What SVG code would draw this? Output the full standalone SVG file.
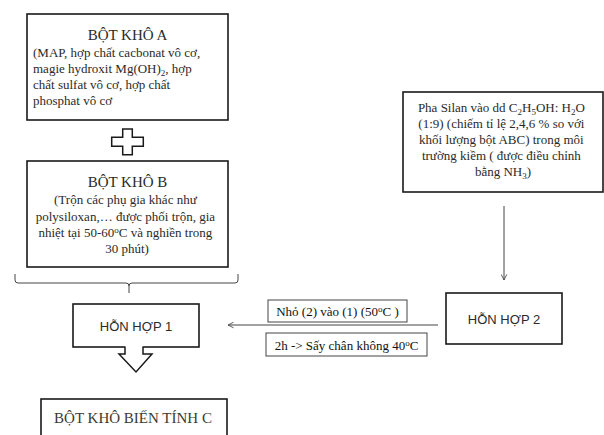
<svg xmlns="http://www.w3.org/2000/svg" width="604" height="435" viewBox="0 0 604 435">
<defs>
<style>
.box{fill:#fff;stroke:#1a1a1a;stroke-width:1.6}
.lbl{fill:#fff;stroke:#444;stroke-width:1}
.serif{font-family:"Liberation Serif","Times New Roman",serif;fill:#2a2a2a}
.sans{font-family:"Liberation Sans",Arial,sans-serif;fill:#2a2a2a}
.ln{fill:none;stroke:#444;stroke-width:1}
</style>
<marker id="open" viewBox="0 0 10 10" refX="9" refY="5" markerWidth="7" markerHeight="7" orient="auto" markerUnits="userSpaceOnUse">
<path d="M1,1 L9,5 L1,9" fill="none" stroke="#444" stroke-width="1.2"/>
</marker>
</defs>
<rect width="604" height="435" fill="#fff"/>

<g id="botkhoA">
<rect class="box" x="27" y="14" width="201" height="106"/>
<text class="serif" x="127.5" y="40" font-size="15" text-anchor="middle">BỘT KHÔ A</text>
<text class="serif" font-size="13">
<tspan x="33" y="57">(MAP, hợp chất cacbonat vô cơ,</tspan>
<tspan x="33" y="73">magie hydroxit Mg(OH)<tspan dy="3" font-size="9">2</tspan><tspan dy="-3">, hợp</tspan></tspan>
<tspan x="33" y="89">chất sulfat vô cơ, hợp chất</tspan>
<tspan x="33" y="105">phosphat vô cơ</tspan>
</text>
</g>

<g id="plus">
<path d="M122.7,129 H132.3 V137.3 H143.3 V146.3 H132.3 V154.7 H122.7 V146.3 H111.7 V137.3 H122.7 Z" fill="#fff" stroke="#1a1a1a" stroke-width="1.5"/>
</g>

<g id="botkhoB">
<rect class="box" x="27" y="161" width="201" height="106"/>
<text class="serif" x="127.5" y="187" font-size="15" text-anchor="middle">BỘT KHÔ B</text>
<text class="serif" font-size="13" text-anchor="middle">
<tspan x="127" y="204">(Trộn các phụ gia khác như</tspan>
<tspan x="127" y="220.5">polysiloxan,… được phối trộn, gia</tspan>
<tspan x="127" y="236.5">nhiệt tại 50-60<tspan dy="-4" font-size="9">o</tspan><tspan dy="4">C và nghiền trong</tspan></tspan>
<tspan x="127" y="252.5">30 phút)</tspan>
</text>
</g>

<g id="brace">
<path class="ln" d="M15,274 V280 Q15,283 18,283 H126 Q129,283 129,286 V293 M129,286 Q129,283 132,283 H235 Q238,283 238,280 V274" stroke="#555" stroke-width="1.2"/>
</g>

<g id="honhop1">
<rect class="box" x="73" y="304" width="126" height="43"/>
<text class="sans" x="136" y="331" font-size="13" text-anchor="middle">HỖN HỢP 1</text>
<rect x="125.5" y="345" width="17" height="4" fill="#fff"/>
<path d="M125,347 V354 H119 L136,372 L152,354 H143 V347" fill="#fff" stroke="#1a1a1a" stroke-width="1.5" stroke-linejoin="miter"/>
</g>

<g id="botkhoC">
<rect class="box" x="41" y="399" width="186" height="50"/>
<text class="serif" x="133" y="423" font-size="15" text-anchor="middle" style="fill:#3a3a2e">BỘT KHÔ BIẾN TÍNH C</text>
</g>

<g id="silan">
<rect class="box" x="403" y="92" width="200" height="100" stroke-width="2"/>
<text class="serif" font-size="13" text-anchor="middle">
<tspan x="503" y="112">Pha Silan vào dd C<tspan dy="3" font-size="9">2</tspan><tspan dy="-3">H</tspan><tspan dy="3" font-size="9">5</tspan><tspan dy="-3">OH: H</tspan><tspan dy="3" font-size="9">2</tspan><tspan dy="-3">O</tspan></tspan>
<tspan x="503" y="128">(1:9) (chiếm tỉ lệ 2,4,6 % so với</tspan>
<tspan x="503" y="144">khối lượng bột ABC) trong môi</tspan>
<tspan x="503" y="160">trường kiềm ( được điều chỉnh</tspan>
<tspan x="503" y="176">bằng NH<tspan dy="3" font-size="9">3</tspan><tspan dy="-3">)</tspan></tspan>
</text>
</g>

<g id="honhop2">
<rect class="box" x="446" y="293" width="116" height="51"/>
<text class="sans" x="504" y="323.5" font-size="13" text-anchor="middle">HỖN HỢP 2</text>
</g>

<g id="connectors">
<line class="ln" x1="504" y1="206" x2="504" y2="280" marker-end="url(#open)"/>
<line class="ln" x1="438" y1="325" x2="228" y2="325" marker-end="url(#open)"/>
</g>

<g id="label1">
<rect class="lbl" x="268" y="300" width="139" height="22"/>
<text class="serif" x="337.5" y="316" font-size="13" text-anchor="middle" style="fill:#111">Nhỏ (2) vào (1) (50<tspan dy="-4" font-size="9">o</tspan><tspan dy="4">C )</tspan></text>
</g>

<g id="label2">
<rect class="lbl" x="266" y="333" width="161" height="23"/>
<text class="serif" x="346.5" y="349.5" font-size="13" text-anchor="middle" style="fill:#111">2h -&gt; Sấy chân không 40<tspan dy="-4" font-size="9">o</tspan><tspan dy="4">C</tspan></text>
</g>
</svg>
